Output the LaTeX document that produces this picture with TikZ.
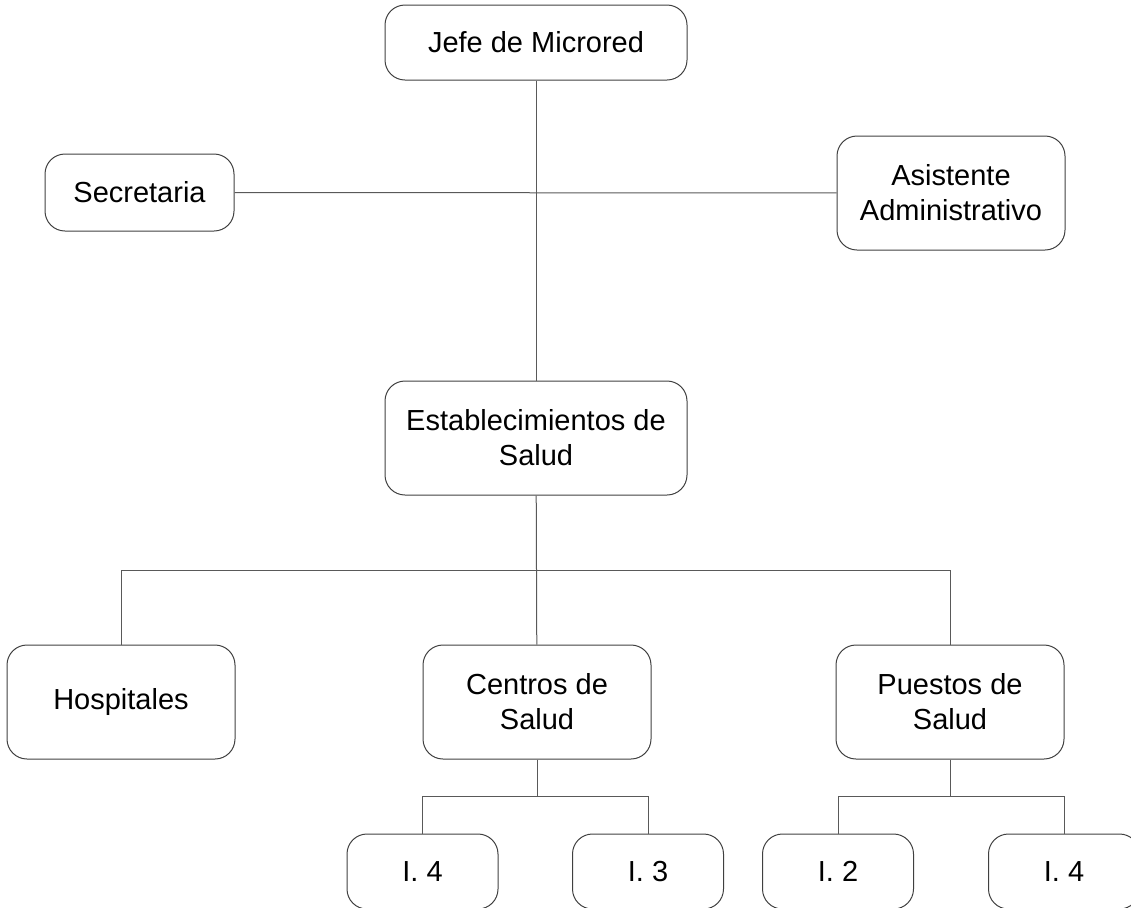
\documentclass[tikz,border=0pt]{standalone}
\usepackage{fontspec}
\setmainfont{Liberation Sans}
\usepackage{tikz}

\begin{document}
\begin{tikzpicture}[x=0.5pt,y=-0.5pt,
	box/.style={draw=black!75, line width=0.5pt, rounded corners=10pt, align=center, inner sep=0pt,
		font=\fontsize{14.5pt}{17.5pt}\selectfont},
	wide/.style={box, minimum width=151pt, minimum height=57pt},
	mid/.style={box, minimum width=114pt, minimum height=57pt},
	small/.style={box, minimum width=75.5pt, minimum height=37.5pt},
	link/.style={draw=black!65, line width=0.5pt}]
		\useasboundingbox (0,0) rectangle (1131,907);
		\clip (0,0) rectangle (1131,907);
		% upper part
		\node[wide, minimum height=37.5pt] (jefe) at (536,42.5) {Jefe de Microred};
		\node[box, minimum width=94.5pt, minimum height=38.5pt] (secre) at (139.5,192.5) {Secretaria};
		\node[mid] (asist) at (951,193) {Asistente\\Administrativo};
		\node[wide] (estab) at (536,438) {Establecimientos de\\Salud};
		% second level
		\node[mid] (hosp) at (121,702) {Hospitales};
		\node[mid] (centros) at (537,702) {Centros de\\Salud};
		\node[mid] (puestos) at (950,702) {Puestos de\\Salud};
		% last level
		\node[small] (ca) at (422.5,871.5) {I. 4};
		\node[small] (cb) at (648,871.5) {I. 3};
		\node[small] (pa) at (838,871.5) {I. 2};
		\node[small] (pb) at (1064,871.5) {I. 4};
		\coordinate (bus) at (537,570);
		\coordinate (cbus) at (537,796);
		\coordinate (pbus) at (950,796);
		% lines
		\draw[link] (jefe) -- (estab);
		\draw[link] (secre) -- (asist);
		\draw[link] (estab) -- (centros);
		\draw[link] (hosp.north) -- (hosp.north |- bus) -- (puestos.north |- bus) -- (puestos.north);
		\draw[link] (centros) -- (cbus);
		\draw[link] (ca.north) -- (ca.north |- cbus) -- (cb.north |- cbus) -- (cb.north);
		\draw[link] (puestos) -- (pbus);
		\draw[link] (pa.north) -- (pa.north |- pbus) -- (pb.north |- pbus) -- (pb.north);
	\end{tikzpicture}
\end{document}
